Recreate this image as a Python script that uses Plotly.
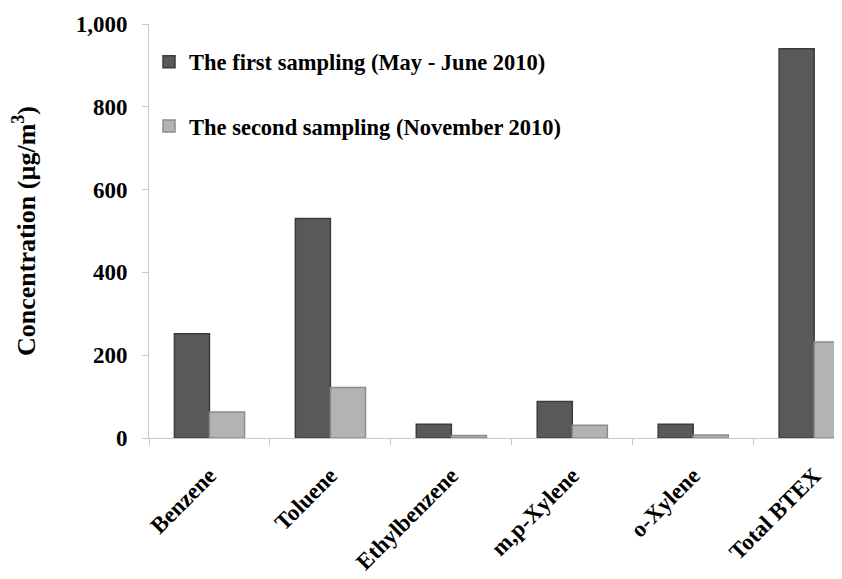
import plotly.graph_objects as go

categories = ["Benzene", "Toluene", "Ethylbenzene", "m,p-Xylene", "o-Xylene", "Total BTEX"]
first_sampling = [252, 530, 33, 88, 33, 940]
second_sampling = [63, 122, 6, 31, 7, 232]
series_names = ["The first sampling (May - June 2010)", "The second sampling (November 2010)"]
y_ticks = [0, 200, 400, 600, 800, 1000]

FONT = "Times New Roman, Liberation Serif, serif"

fig = go.Figure()
fig.add_trace(go.Bar(
    x=categories, y=first_sampling, name="<b>" + series_names[0] + "</b>",
    marker=dict(color="#595959", line=dict(color="#3c3c3c", width=1.5)),
    legend="legend",
))
fig.add_trace(go.Bar(
    x=categories, y=second_sampling, name="<b>" + series_names[1] + "</b>",
    marker=dict(color="#b3b3b3", line=dict(color="#8c8c8c", width=1.5)),
    legend="legend2",
))

legend_font = dict(family=FONT, size=22.5, color="black")

fig.update_layout(
    width=834, height=571,
    margin=dict(l=141, r=0, t=16, b=141),
    paper_bgcolor="white", plot_bgcolor="white",
    barmode="group", bargap=0.42, bargroupgap=0,
    font=dict(family=FONT, size=21, color="black"),
    showlegend=True,
    legend=dict(x=0.0, y=0.908, xanchor="left", yanchor="middle",
                bgcolor="rgba(0,0,0,0)", font=legend_font),
    legend2=dict(x=0.0, y=0.753, xanchor="left", yanchor="middle",
                 bgcolor="rgba(0,0,0,0)", font=legend_font),
)

fig.update_xaxes(
    type="category", range=[-0.5, 5.23],
    showline=True, linecolor="#c8c8c8", linewidth=1,
    ticks="outside", tickson="boundaries", ticklen=6, tickcolor="#c8c8c8",
    tickangle=-45, tickfont=dict(family=FONT, size=23, color="black", weight="bold"),
    ticklabelstandoff=14,
    showgrid=False, zeroline=False,
)
fig.update_yaxes(
    range=[0, 1000], tickvals=y_ticks, tickformat=",d",
    showline=True, linecolor="#c8c8c8", linewidth=1,
    ticks="outside", ticklen=6, tickcolor="#c8c8c8",
    tickfont=dict(family=FONT, size=23, color="black", weight="bold"),
    ticklabelstandoff=10,
    showgrid=False, zeroline=False,
    title=dict(text="<b>Concentration (µg/m<sup>3</sup>)</b>",
               font=dict(family=FONT, size=26, color="black"),
               standoff=36),
)

fig.write_html("out.html")
